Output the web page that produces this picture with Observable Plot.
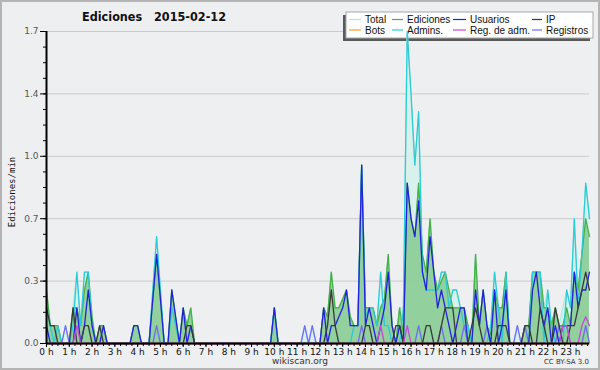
<!DOCTYPE html>
<html><head><meta charset="utf-8">
<script src="https://cdn.jsdelivr.net/npm/d3@7"></script>
<script src="https://cdn.jsdelivr.net/npm/@observablehq/plot@0.6"></script>
<style>
html,body{margin:0;padding:0;background:#eeeff1;}
#wrap{position:relative;width:600px;height:370px;background:#eeeff1;overflow:hidden;font-family:"DejaVu Sans",sans-serif;}
#wrap svg{position:absolute;left:0;top:0;}
#frame{position:absolute;left:0;top:0;width:600px;height:370px;box-sizing:border-box;border:2px solid #b4b4b4;pointer-events:none;}
#title{position:absolute;left:0;width:308px;top:9px;text-align:center;font-weight:bold;font-size:12.5px;color:#111;font-family:"DejaVu Sans Condensed","DejaVu Sans",sans-serif;word-spacing:2px;}
#ylab{position:absolute;left:12px;top:192px;transform:translate(-50%,-50%) rotate(-90deg);font-family:"DejaVu Sans Mono",monospace;font-size:9px;color:#111;white-space:nowrap;}
#site{position:absolute;left:0;width:600px;top:356px;text-align:center;font-size:9px;color:#333;}
#lic{position:absolute;right:11px;top:358px;font-size:7px;color:#333;}
</style></head>
<body>
<div id="wrap">
  <div id="title">Ediciones&nbsp; 2015-02-12</div>
  <div id="ylab">Ediciones/min</div>
  <div id="site">wikiscan.org</div>
  <div id="lic">CC BY-SA 3.0</div>
  <div id="frame"></div>
</div>
<script>
// values: edits per 10-minute slot (divide by 10 for edits/min), 144 slots from 00:00
const total = [
 3,1,1,1,0,1,0,2,4,1,4,4,
 1.5,0,1,1,0,0,0,0,0,0,0,1,
 1,0,0,0,3,6,3,0,0,3,1.5,0,
 2,1,2,0,0,0,0,0,0,0,0,0,
 0,0,0,0,0,0,0,0,0,0,0,0,
 2,0,0,0,0,0,0,0,1,0,1,0,
 0,2,1.5,4,2,2,2.5,3,1.5,1,1,10,
 2,2,2,1,4,2.5,5,1,0.5,2,2,17.5,
 14,10,13,5,4,7,4,3,4,4,3,3,
 3,2,2,1,1,5,1,3,1,1,4,2,
 2,4,0,0,1,0,1,1,4,4,4,2,
 3,1,2,1,2,3,2,7,3,5,9,7];
const ediciones = [
 3,1,1,1,0,0,0,2,2,1,3,4,
 1.5,0,1,1,0,0,0,0,0,0,0,1,
 1,0,0,0,2.5,5,2.5,0,0,3,1.5,0,
 2,1,2,0,0,0,0,0,0,0,0,0,
 0,0,0,0,0,0,0,0,0,0,0,0,
 2,0,0,0,0,0,0,0,0,0,0,0,
 0,2,1.5,4,2,2,2.5,3,1.5,1,1,10,
 2,2,2,1,2,2.5,5,1,0,2,0.5,9,
 7,6,9,5,4,7,4,3,3.5,4,3,2,
 2,2,2,1,0,5,1,3,1,0.5,3,2,
 2,4,0,0,0,0,1,1,4,4,4,2,
 2,1,2,1,1,2,1,4,3,5,7,6];
const usuarios = [
 1,0,0,0,0,0,0,0,2,0,1,3,
 1,0,0,1,0,0,0,0,0,0,0,1,
 1,0,0,0,2.5,5,2.5,0,0,3,1.5,0,
 2,0,1,0,0,0,0,0,0,0,0,0,
 0,0,0,0,0,0,0,0,0,0,0,0,
 2,0,0,0,0,0,0,0,0,0,0,0,
 0,2,0,1,1,1.5,2,3,1,1,1,10,
 1,2,1,0,1,2,4,1,0,1,0,9,
 7,6,8,4,3,6,4,2,3,2,1,0,
 1,2,2,0,0,3,1,3,1,0,3,0,
 1,3,0,0,0,0,0,0,3,4,2,1,
 2,0,1,0,1,1,1,4,2,3,3,4];
const ip = [
 2,1,1,0,0,0,0,2,0,0,1,1,
 0,0,1,0,0,0,0,0,0,0,0,0,
 0,0,0,0,0,0,0,0,0,0,0,0,
 0,1,1,0,0,0,0,0,0,0,0,0,
 0,0,0,0,0,0,0,0,0,0,0,0,
 0,0,0,0,0,0,0,0,0,0,0,0,
 0,0,1,3,1,0,0,0,0,0,0,0,
 1,1,0,0,0,0,0,0,1,1,0,0,
 0,0,0,0,1,1,0,0,1,2,2,2,
 0,0,0,0,1,2,1,0,0,0,0,1,
 1,1,0,0,0,0,1,1,0,0,2,1,
 0,0,2,1,0,0,1,1,2,3,4,3];
const bots = [
 0,0,0,0,0,0,0,0,0,0,0,0, 0,0,0,0,0,0,0,0,0,0,0,0,
 0,0,0,0,0,0,0,0,0,0,0,0, 0,0,0,0,0,0,0,0,0,0,0,0,
 0,0,0,0,0,0,0,0,0,0,0,0, 0,0,0,0,0,0,0,0,0,0,0,0,
 0,0,0,0,0,0,0,0,0,0,0,0, 0,0,0,0,0,0,0,0,0,0,0,0,
 0,0,0,0,0,0,0,0,0,0,0,0, 0,0,0,0,0,0,0,0,0,0,0,0,
 0,0,0,0,0,0,0,0,0,0,0,0, 0,0,0,0,0,0,0,0,0,0,0,0];
const admins = [
 2,1,0,1,0,0,0,1,4,1,4,4,
 1,0,0,0,0,0,0,0,0,0,0,0,
 0,0,0,0,3,6,3,0,0,2,1,0,
 0,0,0,0,0,0,0,0,0,0,0,0,
 0,0,0,0,0,0,0,0,0,0,0,0,
 2,0,0,0,0,0,0,0,0,0,0,0,
 0,0,0,0,0,0,0,0,0,1,1,10,
 1.5,2,2,1,4,1,1,0,0,0,2,17.5,
 14,10,13,4,3,3,3,3,4,4,2,3,
 3,2,1,1,0,0,0,0,0,1,4,2,
 0,4,0,0,0,0,0,0,4,4,4,0,
 3,1,0,0,0,3,2,7,2,5,9,7];
const regAdm = [
 0,0,0,0,0,0,0,0,1,0,0,0,
 0,0,0,0,0,0,0,0,0,0,0,0,
 0,0,0,0,0,0,0,0,0,0,0,0,
 0,0,0,0,0,0,0,0,0,0,0,0,
 0,0,0,0,0,0,0,0,0,0,0,0,
 0,0,0,0,0,0,0,0,0,0,0,0,
 0,0,0,0,0,0,0,0,0,0,0,0,
 0,0,0,0,1,0,0,0,0,0,0,1,
 0,0,0,0,0,0,0,0,0,0,0,0,
 0,0,0,0,0,0,0,0,0,0,0,0,
 0,0,0,0,0,0,0,0,0,0,0,0,
 0,0,0,0,1,1,0,0,0,1,1.5,1];
const registros = [
 0,0,0,0,0,1,0,0,0,0,0,0,
 0,0,0,0,0,0,0,0,0,0,0,0,
 0,0,0,0,0,1,0,0,0,0,0,0,
 0,0,0,0,0,0,0,0,0,0,0,0,
 0,0,0,0,0,0,0,0,0,0,0,0,
 0,0,0,0,0,0,0,0,1,0,1,0,
 0,0,0,0,0,0,0,0,0,0,0,1,
 0,0,0,0,0,0,0,0,0,0,0,0,
 0,0,1,0,0,0,0,0,1,0,0,0,
 0,0,1,0,0,0,0,0,1,0,0,0,
 0,0,0,0,1,0,1,0,0,0,0,0,
 0,0,0,1,1,1,0,0,0,0,1,0];

const seriesNames = ["Total","Ediciones","Usuarios","IP","Bots","Admins.","Reg. de adm.","Registros"];
const seriesColors = ["#aee9e1","#46b046","#2222dd","#3a3a3a","#ff9a2e","#2ccbd6","#c84ad8","#6e6ef0"];
const yTicks = [0, 0.35, 0.7, 1.05, 1.4, 1.75];
const yTickLabels = ["0.0","0.3","0.7","1.0","1.4","1.7"];
const hourLabels = ["0 h","1 h","2 h","3 h","4 h","5 h","6 h","7 h","8 h","9 h","10 h","11 h","12 h","13 h","14 h","15 h","16 h","17 h","18 h","19 h","20 h","21 h","22 h","23 h"];

const rows = a => a.map((v, i) => ({t: i * 10, v: v / 10}));
const all = [total, ediciones, usuarios, ip, bots, admins, regAdm, registros].map(rows);

const hourTicks = hourLabels.map((_, i) => i * 60);
const minorX = d3.range(0, 1431, 15);
const minorY = d3.range(0, 1.76, 0.0875);

function legendMark(index, scales, values, dims) {
  const g = d3.create("svg:g").attr("font-family", "Liberation Sans, Arial, sans-serif").attr("font-size", 10).attr("text-anchor", "start");
  const x0 = 346, y0 = 12, w = 247, h = 26;
  g.append("rect").attr("x", x0 - 3).attr("y", y0 + 3).attr("width", w).attr("height", h).attr("fill", "#5a5a5a");
  g.append("rect").attr("x", x0).attr("y", y0).attr("width", w).attr("height", h).attr("fill", "#fff").attr("stroke", "#a8a8a8");
  const colX = [349, 392, 453, 532];
  const swW = [12, 11, 13, 10];
  seriesNames.forEach((name, i) => {
    const c = i % 4, r = Math.floor(i / 4);
    const yy = y0 + 7.5 + r * 10.5;
    g.append("line").attr("x1", colX[c]).attr("x2", colX[c] + swW[c]).attr("y1", yy).attr("y2", yy)
      .attr("stroke", seriesColors[i]).attr("stroke-width", 1.2);
    g.append("text").attr("x", colX[c] + swW[c] + 4).attr("y", yy + 3.6).attr("fill", "#111").attr("text-anchor", "start").text(name);
  });
  return g.node();
}

const plot = Plot.plot({
  width: 600, height: 370,
  marginLeft: 46, marginRight: 11, marginTop: 31, marginBottom: 27,
  style: {background: "transparent", fontFamily: "DejaVu Sans, sans-serif", fontSize: "9px", color: "#222", overflow: "visible"},
  x: {domain: [0, 1430], axis: null},
  y: {domain: [0, 1.75], axis: null},
  marks: [
    Plot.ruleY(yTicks.slice(1), {stroke: "#cbcbcb", strokeWidth: 1}),
    legendMark,
    Plot.areaY(all[0], {x: "t", y: "v", fill: "#d6f1ec", fillOpacity: 0.9}),
    Plot.lineY(all[0], {x: "t", y: "v", stroke: seriesColors[0], strokeWidth: 1.2}),
    Plot.areaY(all[1], {x: "t", y: "v", fill: "#4caf50", fillOpacity: 0.5}),
    Plot.lineY(all[1], {x: "t", y: "v", stroke: seriesColors[1], strokeWidth: 1.3}),
    Plot.lineY(all[5], {x: "t", y: "v", stroke: seriesColors[5], strokeWidth: 1.3}),
    Plot.lineY(all[7], {x: "t", y: "v", stroke: seriesColors[7], strokeWidth: 1.3}),
    Plot.lineY(all[2], {x: "t", y: "v", stroke: seriesColors[2], strokeWidth: 1.3}),
    Plot.lineY(all[3], {x: "t", y: "v", stroke: seriesColors[3], strokeWidth: 1.3}),
    Plot.lineY(all[6], {x: "t", y: "v", stroke: seriesColors[6], strokeWidth: 1.3}),
    Plot.lineY(all[4], {x: "t", y: "v", stroke: seriesColors[4], strokeWidth: 1.3}),
    Plot.axisY({ticks: yTicks, tickFormat: (d, i) => yTickLabels[i], label: null, tickSize: 6, tickPadding: 2, fontSize: 9, color: "#555", stroke: "#000"}),
    Plot.axisY({ticks: minorY, tickFormat: () => "", label: null, tickSize: 3, stroke: "#000"}),
    Plot.axisX({ticks: hourTicks, tickFormat: (d, i) => hourLabels[i], label: null, tickSize: 4, tickPadding: 1, fontSize: 9, color: "#111", stroke: "#000"}),
    Plot.axisX({ticks: minorX, tickFormat: () => "", label: null, tickSize: 3, stroke: "#000"}),
    Plot.ruleX([0], {stroke: "#000", strokeWidth: 2}),
    Plot.ruleY([0], {stroke: "#000", strokeWidth: 2})
  ]
});
document.getElementById("wrap").insertBefore(plot, document.getElementById("frame"));
</script>
</body></html>
